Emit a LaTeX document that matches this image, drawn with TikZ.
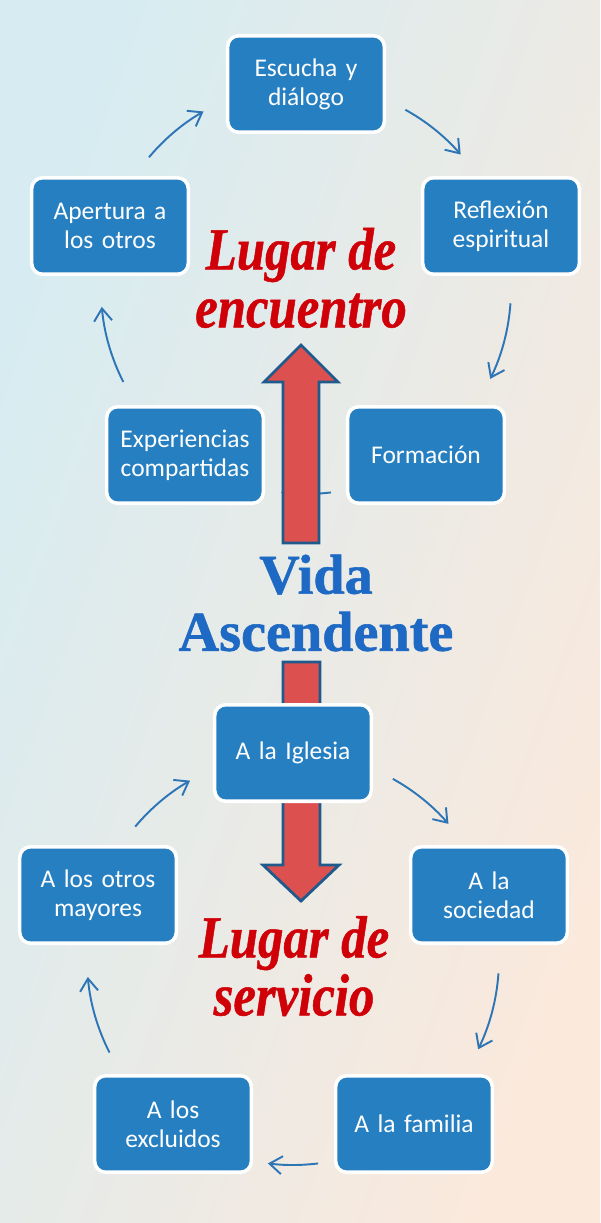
\documentclass[tikz,border=0pt]{standalone}
\usepackage{fontspec}
\setmainfont{Carlito}
\newfontfamily\lugarfont[FakeStretch=0.85,FakeBold=0.8]{Liberation Serif}
\newfontfamily\vidafont[FakeBold=1]{Liberation Serif}
\usetikzlibrary{arrows.meta,calc}
\definecolor{boxblue}{RGB}{38,127,193}
\definecolor{linkblue}{RGB}{46,117,182}
\definecolor{arrowred}{RGB}{221,80,80}
\definecolor{arrowblue}{RGB}{31,90,140}
\definecolor{lugarred}{RGB}{208,0,8}
\definecolor{vidablue}{RGB}{30,105,195}
\definecolor{bgblue}{RGB}{214,236,242}
\definecolor{bgpeach}{RGB}{251,233,220}

\begin{document}
\begin{tikzpicture}[x=0.02cm,y=-0.02cm,
  box/.style={rectangle, draw=white, line width=2pt, fill=boxblue, rounded corners=0.22cm, minimum width=3.05cm, minimum height=1.93cm, text width=2.9cm, align=center, text=white, font=\fontsize{14.5}{16.5}\selectfont},
  link/.style={draw=linkblue, line width=1.1pt, -{Straight Barb[length=2.5mm,width=3.6mm]}},
  bigarrow/.style={draw=arrowblue, line width=1.6pt, fill=arrowred, line join=miter},
  lugar/.style={text=lugarred, align=center, font=\lugarfont\bfseries\itshape\fontsize{34}{33}\selectfont},
  vida/.style={text=vidablue, align=center, font=\vidafont\bfseries\fontsize{32}{32.5}\selectfont}]
\shade[left color=bgblue, right color=bgpeach, shading angle=70] (0,0) rectangle (600,1223);
\useasboundingbox (0,0) rectangle (600,1223);

% centres of the two cycles
\coordinate (ctop) at (306,289);
\coordinate (cbot) at (293,959);

% top cycle arrows
\draw[link] ($(ctop)+(61:4.1cm)$) arc[start angle=61, end angle=41, radius=4.1cm];
\draw[link] ($(ctop)+(-4:4.1cm)$) arc[start angle=-4, end angle=-26, radius=4.1cm];
\draw[link] ($(ctop)+(-83:4.1cm)$) arc[start angle=-83, end angle=-97, radius=4.1cm];
\draw[link] ($(ctop)+(207:4.1cm)$) arc[start angle=207, end angle=185, radius=4.1cm];
\draw[link] ($(ctop)+(140:4.1cm)$) arc[start angle=140, end angle=120, radius=4.1cm];

% bottom cycle arrows
\draw[link] ($(cbot)+(61:4.12cm)$) arc[start angle=61, end angle=41, radius=4.12cm];
\draw[link] ($(cbot)+(-4:4.12cm)$) arc[start angle=-4, end angle=-26, radius=4.12cm];
\draw[link] ($(cbot)+(-83:4.12cm)$) arc[start angle=-83, end angle=-97, radius=4.12cm];
\draw[link] ($(cbot)+(207:4.12cm)$) arc[start angle=207, end angle=185, radius=4.12cm];
\draw[link] ($(cbot)+(140:4.12cm)$) arc[start angle=140, end angle=120, radius=4.12cm];

% big arrows
\draw[bigarrow] (301,345) -- (338,382) -- (319,382) -- (319,543) -- (283,543) -- (283,382) -- (264,382) -- cycle;
\draw[bigarrow] (283,662) -- (320,662) -- (320,865) -- (339,865) -- (301,901) -- (263,865) -- (283,865) -- cycle;

% top cycle
\draw (306,84) node[box] (esc) {Escucha y\\diálogo};
\draw (501,226) node[box] (ref) {Reflexión\\espiritual};
\draw (426,455) node[box] (form) {Formación};
\draw (185,455) node[box] (exp) {Experiencias\\compartidas};
\draw (110,226) node[box] (ape) {Apertura a\\los otros};

% bottom cycle
\draw (293,753) node[box] (igl) {A la Iglesia};
\draw (489,895) node[box] (soc) {A la\\sociedad};
\draw (414,1124) node[box] (fam) {A la familia};
\draw (173,1124) node[box] (exc) {A los\\excluidos};
\draw (98,895) node[box] (may) {A los otros\\mayores};

% titles
\draw (301,278) node[lugar] (encuentro) {Lugar de\\encuentro};
\draw (316,603) node[vida] (vida) {Vida\\Ascendente};
\draw (294,966) node[lugar] (servicio) {Lugar de\\servicio};
\end{tikzpicture}
\end{document}
